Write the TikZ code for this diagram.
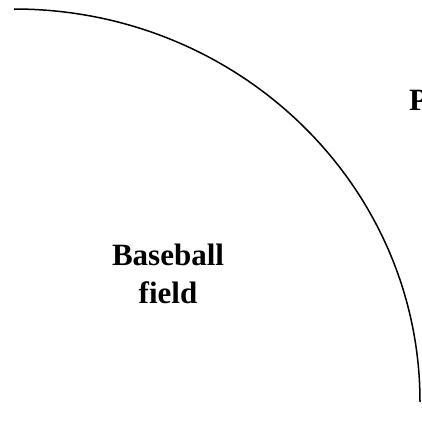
\documentclass[tikz,border=0pt]{standalone}
\usepackage{fontspec}
\setmainfont{Liberation Serif}
\tikzset{
  label text/.style={font=\bfseries\fontsize{31}{38}\selectfont,inner sep=0pt},
  fence/.style={line width=1.5pt}
}
\begin{document}
\begin{tikzpicture}[x=1pt,y=1pt]
  \useasboundingbox (0,0) rectangle (422,-420);
  \coordinate (fenceStart) at (14,-9);
  \draw[fence] (fenceStart) arc[start angle=90,end angle=0,x radius=406,y radius=393] coordinate (fenceEnd);
  \node[label text,align=center] (field) at (168,-273.5) {Baseball\\field};
  \node[label text,anchor=base west] (park) at (409,-110) {P};
\end{tikzpicture}
\end{document}
